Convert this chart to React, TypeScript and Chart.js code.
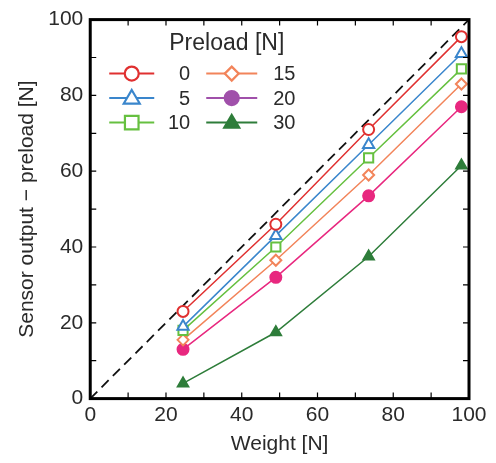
import React, { useEffect, useRef } from "react";
import { Chart, registerables } from "chart.js";

Chart.register(...registerables);

const weights = [24.5, 49, 73.5, 98];
const preloads = ["0", "5", "10", "15", "20", "30"];
const s0 = [23, 46, 71, 95.5];
const s5 = [19, 43, 67, 91];
const s10 = [18, 40, 63.5, 87];
const s15 = [15.5, 36.5, 59, 83];
const s20 = [13, 32, 53.5, 77];
const s30 = [4, 17.5, 37.5, 61.5];
const idealLine = [0, 100];
const xTicks = [0, 20, 40, 60, 80, 100];
const legendTitle = "Preload [N]";

const FONT = "'Liberation Sans', Arial, sans-serif";
const TXT = "#2a2a2a";

const styles = [
  { color: "#e03030", legendColor: "#e03030", point: "circle", fill: false, r: 5.5, lr: 7 },
  { color: "#3a86cc", legendColor: "#3a86cc", point: "triangle", fill: false, r: 6.5, lr: 8 },
  { color: "#66c040", legendColor: "#66c040", point: "rect", fill: false, r: 6.5, lr: 8 },
  { color: "#f2845a", legendColor: "#f2845a", point: "rectRot", fill: false, r: 5.5, lr: 7 },
  { color: "#e8287f", legendColor: "#a050aa", point: "circle", fill: true, r: 5.5, lr: 7 },
  { color: "#2e7d3a", legendColor: "#2e7d3a", point: "triangle", fill: true, r: 6, lr: 7.5 },
];

const seriesList = [s0, s5, s10, s15, s20, s30];

const boxPlugin = {
  id: "boxTicks",
  afterDatasetsDraw(chart: any) {
    const { ctx, chartArea, scales } = chart;
    const { left, right, top, bottom } = chartArea;
    ctx.save();
    ctx.strokeStyle = "#000";
    ctx.lineWidth = 1.2;
    const L = 6;
    for (let v = 10; v < 100; v += 10) {
      const x = scales.x.getPixelForValue(v);
      const y = scales.y.getPixelForValue(v);
      ctx.beginPath();
      ctx.moveTo(x, bottom);
      ctx.lineTo(x, bottom - L);
      ctx.moveTo(x, top);
      ctx.lineTo(x, top + L);
      ctx.moveTo(left, y);
      ctx.lineTo(left + L, y);
      ctx.moveTo(right, y);
      ctx.lineTo(right - L, y);
      ctx.stroke();
    }
    ctx.lineWidth = 3;
    ctx.strokeRect(left, top, right - left, bottom - top);
    ctx.restore();
  },
};

function drawMarker(ctx: any, kind: string, x: number, y: number, r: number, color: string, fill: boolean) {
  ctx.beginPath();
  if (kind === "circle") {
    ctx.arc(x, y, r, 0, Math.PI * 2);
  } else if (kind === "triangle") {
    const h = r * 1.7;
    ctx.moveTo(x, y - h * 0.6);
    ctx.lineTo(x + r, y + h * 0.4);
    ctx.lineTo(x - r, y + h * 0.4);
    ctx.closePath();
  } else if (kind === "rect") {
    ctx.rect(x - r * 0.85, y - r * 0.85, r * 1.7, r * 1.7);
  } else {
    ctx.moveTo(x, y - r);
    ctx.lineTo(x + r, y);
    ctx.lineTo(x, y + r);
    ctx.lineTo(x - r, y);
    ctx.closePath();
  }
  ctx.fillStyle = fill ? color : "#fff";
  ctx.fill();
  ctx.lineWidth = 2.2;
  ctx.strokeStyle = color;
  ctx.stroke();
}

const legendPlugin = {
  id: "customLegend",
  afterDraw(chart: any) {
    const { ctx, chartArea } = chart;
    const ox = chartArea.left;
    const oy = chartArea.top;
    ctx.save();
    ctx.fillStyle = TXT;
    ctx.font = `23px ${FONT}`;
    ctx.textAlign = "left";
    ctx.textBaseline = "middle";
    ctx.fillText(legendTitle, ox + 79, oy + 24);
    preloads.forEach((label, i) => {
      const col = Math.floor(i / 3);
      const row = i % 3;
      const st = styles[i];
      const x0 = ox + (col === 0 ? 19 : 116);
      const x1 = x0 + (col === 0 ? 45 : 51);
      const y = oy + 54 + row * 24.5;
      const mx = (x0 + x1) / 2;
      ctx.strokeStyle = st.legendColor;
      ctx.lineWidth = 2;
      ctx.beginPath();
      ctx.moveTo(x0, y);
      ctx.lineTo(x1, y);
      ctx.stroke();
      drawMarker(ctx, st.point, mx, y, st.lr, st.legendColor, st.fill);
      ctx.fillStyle = TXT;
      ctx.font = `20px ${FONT}`;
      if (col === 0) {
        ctx.textAlign = "right";
        ctx.fillText(label, ox + 100, y + 1);
      } else {
        ctx.textAlign = "left";
        ctx.fillText(label, ox + 183, y + 1);
      }
    });
    ctx.restore();
  },
};

export default function App() {
  const ref = useRef<HTMLCanvasElement>(null);
  useEffect(() => {
    if (!ref.current) return;
    const datasets: any[] = [
      {
        label: "ideal",
        data: idealLine.map((v) => ({ x: v, y: v })),
        borderColor: "#111",
        borderWidth: 1.8,
        borderDash: [10, 6],
        pointRadius: 0,
        order: 10,
      },
    ];
    seriesList.forEach((s, i) => {
      const st = styles[i];
      datasets.push({
        label: preloads[i],
        data: s.map((v, j) => ({ x: weights[j], y: v })),
        borderColor: st.color,
        backgroundColor: st.fill ? st.color : "#fff",
        borderWidth: 1.5,
        pointStyle: st.point,
        pointRadius: st.r,
        pointBorderWidth: 2,
        pointBackgroundColor: st.fill ? st.color : "#fff",
        pointBorderColor: st.color,
        order: i,
      });
    });
    const chart = new Chart(ref.current, {
      type: "line",
      data: { datasets },
      options: {
        animation: false,
        responsive: false,
        layout: { padding: { top: 8, right: 27, left: 11, bottom: 4 } },
        plugins: { legend: { display: false }, tooltip: { enabled: false } },
        scales: {
          x: {
            type: "linear",
            min: 0,
            max: 100,
            afterBuildTicks: (axis: any) => {
              axis.ticks = xTicks.map((v) => ({ value: v }));
            },
            grid: { display: false, drawTicks: false },
            border: { display: false },
            ticks: { color: TXT, font: { size: 21, family: FONT }, padding: 4, maxRotation: 0 },
            title: { display: true, text: "Weight [N]", color: TXT, font: { size: 21, family: FONT }, padding: { top: 0, bottom: 2 } },
          },
          y: {
            type: "linear",
            min: 0,
            max: 100,
            afterBuildTicks: (axis: any) => {
              axis.ticks = xTicks.map((v) => ({ value: v }));
            },
            grid: { display: false, drawTicks: false },
            border: { display: false },
            ticks: { color: TXT, font: { size: 21, family: FONT }, padding: 7 },
            title: { display: true, text: "Sensor output − preload [N]", color: TXT, font: { size: 21, family: FONT }, padding: { bottom: 1 } },
          },
        },
      },
      plugins: [boxPlugin, legendPlugin],
    });
    return () => chart.destroy();
  }, []);
  return (
    <div style={{ position: "fixed", left: 0, top: 0, width: 496, height: 463, background: "#fff" }}>
      <canvas ref={ref} width={496} height={463} style={{ width: 496, height: 463 }} />
    </div>
  );
}
